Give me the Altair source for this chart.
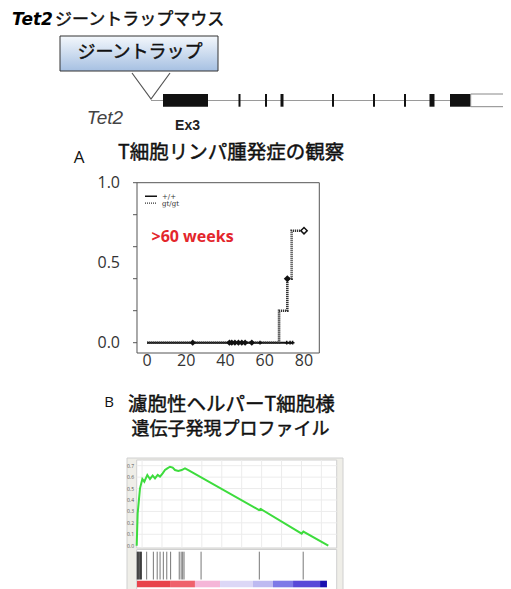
import altair as alt
import pandas as pd

W, H = 495, 581
JP = "Noto Sans CJK JP"
LAT = "Open Sans"

# ---------------- gene map (schematic positions along the Tet2 locus) ----------------
exon_start = [155, 230.5, 257, 272.5, 324, 365, 396, 421.5, 442]
exon_end = [200, 232.5, 259, 275.5, 326, 367, 398, 426.5, 462.7]
utr_start = [462.7]
utr_end = [500]
locus_start = [143]
locus_end = [495]
trap_x = [124, 143, 162]
trap_y = [65, 91, 65]

# ---------------- A: T-cell lymphoma incidence (Kaplan-Meier style) ----------------
gt_weeks = [0, 67.3, 71.5, 73.7, 80]
gt_incidence = [0, 0.2, 0.4, 0.7, 0.7]
wt_weeks = [0, 74.5]
wt_incidence = [0, 0]
wt_censor_weeks = [23.3, 42.0, 43.2, 44.8, 46.6, 48.3, 50.0, 53.4]
wt_cross_weeks = [57.6, 71.2, 72.9, 74.2]
gt_censor_weeks = [71.5]
gt_censor_inc = [0.4]
gt_end_weeks = [80]
gt_end_inc = [0.7]
km_yticks = [0, 0.2, 0.4, 0.6, 0.8, 1.0]
km_ylabels = [0.0, 0.5, 1.0]
km_xlabels = [0, 20, 40, 60, 80]

# ---------------- B: GSEA enrichment plot ----------------
es_rank = [0, 0.5, 1.72, 2.94, 3.98, 5.55, 6.94, 8.33, 9.55, 10.95, 12.16, 13.55,
           14.77, 15.99, 17.38, 18.77, 19.99, 21.73, 23.47, 25.21, 26.95, 63.83,
           64.7, 86.1, 86.97, 100]
es_value = [0, 0.283, 0.502, 0.584, 0.560, 0.619, 0.584, 0.613, 0.589, 0.619, 0.604,
            0.633, 0.662, 0.677, 0.691, 0.683, 0.662, 0.654, 0.662, 0.677, 0.662,
            0.312, 0.321, 0.105, 0.123, 0]
hit_rank = [0.3, 0.8, 1.3, 1.9, 2.4, 5.2, 8.7, 10.7, 12.2, 13.9, 15.7, 17.7, 22.2,
            23.2, 24.0, 24.7, 33.6, 64.0, 86.9]
bar_start = [0.15, 17.4, 30.4, 43.5, 60.7, 71.1, 81.6, 95.7]
bar_end = [17.4, 30.4, 43.5, 60.7, 71.1, 81.6, 95.7, 99.3]
bar_color = ["#e8434b", "#ef626c", "#f5b6d8", "#dcd7f6", "#bebaf1", "#7e79e7",
             "#5848d8", "#1a0fb0"]
es_ticks = [0.0, 0.1, 0.2, 0.3, 0.4, 0.5, 0.6, 0.7]
es_grid_rank = [2.8, 13.2, 23.6, 34.0, 44.4, 54.8, 65.2, 75.6, 86.0, 96.4]


def sc(domain, rng):
    return alt.Scale(domain=domain, range=rng, nice=False, zero=False)


PX = sc([0, 495], [0, 495])
PY = sc([0, 581], [0, 581])
KMX = sc([0, 80], [139, 296])
KMY = sc([0, 1], [334.7, 174.7])
GX = sc([0, 100], [128.7, 320.3])
GY = sc([0, 0.7], [537.7, 457.7])


def txt(text, x, y, size, font=JP, **kw):
    return alt.Chart(pd.DataFrame({"t": [text]})).mark_text(
        fontSize=size, font=font, baseline="middle", **kw
    ).encode(text="t:N", x=alt.value(x), y=alt.value(y))


def heavy(text, x, y, size, **kw):
    # regular CJK glyphs thickened slightly with a thin outline (medium weight look)
    return txt(text, x, y, size, stroke="#111", strokeWidth=0.45, color="#111", **kw)


def box(x, x2, y, y2, **kw):
    return alt.Chart(pd.DataFrame({"a": [0]})).mark_rect(**kw).encode(
        x=alt.value(x), x2=alt.value(x2), y=alt.value(y), y2=alt.value(y2))


layers = []

# ---- header ----
layers.append(txt("Tet2", 4, 12, 17, font="DejaVu Sans", fontWeight="bold",
                  fontStyle="italic", align="left", color="#000"))
layers.append(heavy("ジーントラップマウス", 47, 12, 17, align="left"))

grad = alt.LinearGradient(gradient="linear", x1=0, x2=0, y1=0, y2=1,
                          stops=[alt.GradientStop(color="#f4f8fc", offset=0),
                                 alt.GradientStop(color="#a6c0e2", offset=1)])
layers.append(box(52, 210, 28, 63, fill=grad, stroke="#333", strokeWidth=1))
layers.append(heavy("ジーントラップ", 132, 44.5, 18, align="center"))

# ---- gene map ----
layers.append(alt.Chart(pd.DataFrame({"s": locus_start, "e": locus_end})).mark_rule(
    color="#9a9a9a", strokeWidth=1).encode(
    x=alt.X("s:Q", scale=PX, axis=None), x2="e:Q", y=alt.value(92.5)))
layers.append(alt.Chart(pd.DataFrame({"x": trap_x, "y": trap_y, "o": [0, 1, 2]})).mark_line(
    color="#555", strokeWidth=1.2).encode(
    x=alt.X("x:Q", scale=PX, axis=None), y=alt.Y("y:Q", scale=PY, axis=None), order="o:Q"))
layers.append(alt.Chart(pd.DataFrame({"s": exon_start, "e": exon_end})).mark_rect(
    color="#111").encode(
    x=alt.X("s:Q", scale=PX, axis=None), x2="e:Q", y=alt.value(86), y2=alt.value(98.7)))
layers.append(alt.Chart(pd.DataFrame({"s": utr_start, "e": utr_end})).mark_rect(
    fill="white", stroke="#888", strokeWidth=1).encode(
    x=alt.X("s:Q", scale=PX, axis=None), x2="e:Q", y=alt.value(86), y2=alt.value(98.7)))
layers.append(txt("Tet2", 97, 110, 19, font="Liberation Sans", fontStyle="italic",
                  align="center", color="#444"))
layers.append(txt("Ex3", 179.5, 118, 14, font="Liberation Sans", fontWeight="bold",
                  align="center", color="#222"))

# ---- panel A ----
layers.append(txt("A", 71, 149.5, 17, font=LAT, align="center", color="#111"))
layers.append(heavy("T細胞リンパ腫発症の観察", 110, 145, 19.5, align="left"))

layers.append(box(129, 311.3, 174.7, 345, filled=False, stroke="#555", strokeWidth=1))
layers.append(alt.Chart(pd.DataFrame({"v": km_yticks})).mark_rule(
    color="#555", strokeWidth=1).encode(
    y=alt.Y("v:Q", scale=KMY, axis=None), x=alt.value(125), x2=alt.value(129)))
layers.append(alt.Chart(pd.DataFrame({"v": km_ylabels})).mark_text(
    fontSize=16, font=LAT, align="right", baseline="middle", color="#333").encode(
    y=alt.Y("v:Q", scale=KMY, axis=None), x=alt.value(112),
    text=alt.Text("v:Q", format=".1f")))
layers.append(alt.Chart(pd.DataFrame({"v": km_xlabels})).mark_text(
    fontSize=16, font=LAT, align="center", baseline="middle", color="#333").encode(
    x=alt.X("v:Q", scale=KMX, axis=None), y=alt.value(353), text="v:Q"))

# legend
layers.append(box(137, 149, 188.2, 188.2, stroke="#111", strokeWidth=1.5))
layers.append(alt.Chart(pd.DataFrame({"a": [0]})).mark_rule(
    color="#333", strokeWidth=1.3, strokeDash=[1, 1]).encode(
    x=alt.value(137), x2=alt.value(149), y=alt.value(195.2)))
layers.append(txt("+/+", 154, 189, 7, font="DejaVu Serif", align="left", color="#333"))
layers.append(txt("gt/gt", 154, 196, 7, font="DejaVu Serif", align="left", color="#333"))
layers.append(txt(">60 weeks", 143.5, 228.7, 16, font=LAT, fontWeight="bold",
                  align="left", color="#e3262c"))

# curves
layers.append(alt.Chart(pd.DataFrame({"w": wt_weeks, "p": wt_incidence})).mark_line(
    color="#111", strokeWidth=2).encode(
    x=alt.X("w:Q", scale=KMX, axis=None), y=alt.Y("p:Q", scale=KMY, axis=None)))
layers.append(alt.Chart(pd.DataFrame({"w": gt_weeks, "p": gt_incidence})).mark_line(
    color="#333", strokeWidth=2.6, strokeDash=[1.2, 0.8], interpolate="step-after").encode(
    x=alt.X("w:Q", scale=KMX, axis=None), y=alt.Y("p:Q", scale=KMY, axis=None)))
layers.append(alt.Chart(pd.DataFrame({"w": wt_censor_weeks,
                                      "p": [0] * len(wt_censor_weeks)})).mark_point(
    shape="diamond", filled=True, size=40, color="#111", opacity=1).encode(
    x=alt.X("w:Q", scale=KMX, axis=None), y=alt.Y("p:Q", scale=KMY, axis=None)))
layers.append(alt.Chart(pd.DataFrame({"w": wt_cross_weeks,
                                      "p": [0] * len(wt_cross_weeks)})).mark_point(
    shape="cross", filled=True, size=14, color="#111", opacity=1).encode(
    x=alt.X("w:Q", scale=KMX, axis=None), y=alt.Y("p:Q", scale=KMY, axis=None)))
layers.append(alt.Chart(pd.DataFrame({"w": gt_censor_weeks, "p": gt_censor_inc})).mark_point(
    shape="diamond", filled=True, size=50, color="#111", opacity=1).encode(
    x=alt.X("w:Q", scale=KMX, axis=None), y=alt.Y("p:Q", scale=KMY, axis=None)))
layers.append(alt.Chart(pd.DataFrame({"w": gt_end_weeks, "p": gt_end_inc})).mark_point(
    shape="diamond", filled=True, size=40, fill="white", stroke="#111", strokeWidth=1.5,
    opacity=1).encode(
    x=alt.X("w:Q", scale=KMX, axis=None), y=alt.Y("p:Q", scale=KMY, axis=None)))

# ---- panel B ----
layers.append(txt("B", 101, 394.3, 15, font=LAT, align="center", color="#111"))
layers.append(heavy("濾胞性ヘルパーT細胞様", 120, 397, 19.5, align="left"))
layers.append(heavy("遺伝子発現プロファイル", 123.5, 421.5, 18, align="left"))

layers.append(box(119, 335, 450, 586, fill="#efeee8", stroke="#d0d0d0", strokeWidth=1))
layers.append(box(128.7, 328.7, 452, 540, fill="white", stroke="#d0d0d0", strokeWidth=1))
layers.append(box(128.7, 328.7, 541.5, 586, fill="white", stroke="#d0d0d0", strokeWidth=1))

layers.append(alt.Chart(pd.DataFrame({"r": es_grid_rank})).mark_rule(
    color="#ececec", strokeWidth=1).encode(
    x=alt.X("r:Q", scale=GX, axis=None), y=alt.value(452), y2=alt.value(540)))
layers.append(alt.Chart(pd.DataFrame({"v": es_ticks[1:]})).mark_rule(
    color="#ececec", strokeWidth=1).encode(
    y=alt.Y("v:Q", scale=GY, axis=None), x=alt.value(128.7), x2=alt.value(328.7)))
layers.append(alt.Chart(pd.DataFrame({"v": es_ticks})).mark_text(
    fontSize=5, font=LAT, align="center", baseline="middle", color="#555").encode(
    y=alt.Y("v:Q", scale=GY, axis=None), x=alt.value(122.5),
    text=alt.Text("v:Q", format=".1f")))
layers.append(alt.Chart(pd.DataFrame({"r": es_rank, "es": es_value})).mark_line(
    color="#3ddc3d", strokeWidth=2).encode(
    x=alt.X("r:Q", scale=GX, axis=None), y=alt.Y("es:Q", scale=GY, axis=None)))

hits = pd.DataFrame({"r": hit_rank})
hits["c"] = ["#222" if r < 3 else "#777" for r in hit_rank]
layers.append(alt.Chart(hits).mark_rule(strokeWidth=1).encode(
    x=alt.X("r:Q", scale=GX, axis=None), y=alt.value(543.7), y2=alt.value(571.5),
    color=alt.Color("c:N", scale=None)))
layers.append(alt.Chart(pd.DataFrame({"s": bar_start, "e": bar_end, "c": bar_color})).mark_rect().encode(
    x=alt.X("s:Q", scale=GX, axis=None), x2="e:Q", y=alt.value(572.7), y2=alt.value(579.3),
    color=alt.Color("c:N", scale=None)))

chart = alt.layer(*layers).resolve_scale(x="independent", y="independent").properties(
    width=W, height=H, autosize=alt.AutoSizeParams(type="none"), padding=0,
    background="white").configure_view(strokeWidth=0)

chart.save("out.html", embed_options={"renderer": "svg", "actions": False})
